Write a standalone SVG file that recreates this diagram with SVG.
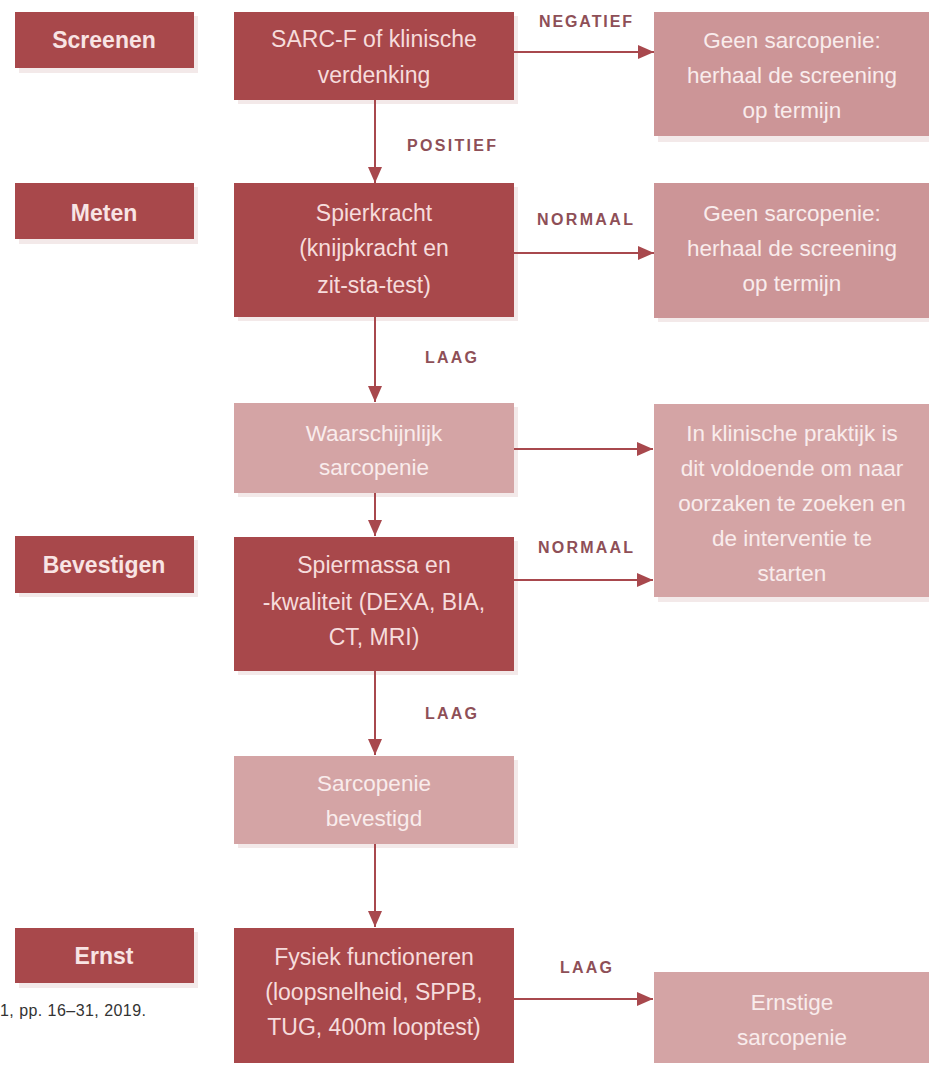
<svg xmlns="http://www.w3.org/2000/svg" width="929" height="1065" viewBox="0 0 929 1065">
<style>
.dark{fill:#a8484b}
.lightA{fill:#cc9597}
.lightB{fill:#d4a4a5}
.shadow{fill:#f3e9e9}
.stage{font-family:"Liberation Sans",Arial,sans-serif;font-weight:bold;font-size:23px;fill:#f8e4e4;text-anchor:middle}
.dt{font-family:"Liberation Sans",Arial,sans-serif;font-size:23px;fill:#f6dcdc;text-anchor:middle}
.lt{font-family:"Liberation Sans",Arial,sans-serif;font-size:22.5px;fill:#f9ecec;text-anchor:middle}
.lbl{font-family:"Liberation Sans",Arial,sans-serif;font-weight:bold;font-size:16px;fill:#8e4f57}
.conn{stroke:#a8484d;stroke-width:2;fill:none;marker-end:url(#ah)}
.cite{font-family:"Liberation Sans",Arial,sans-serif;font-size:16px;fill:#333}
</style>
<defs>
<marker id="ah" markerUnits="userSpaceOnUse" markerWidth="16" markerHeight="14" refX="16" refY="7" orient="auto">
<path d="M0,0 L16,7 L0,14 Z" fill="#a8484d"/>
</marker>
</defs>
<rect width="929" height="1065" fill="#ffffff"/>

<g id="shadows">
<rect class="shadow" x="19" y="16" width="179" height="57"/>
<rect class="shadow" x="19" y="187" width="179" height="57"/>
<rect class="shadow" x="19" y="540" width="179" height="57"/>
<rect class="shadow" x="19" y="932" width="179" height="56"/>
<rect class="shadow" x="238" y="16" width="280" height="88"/>
<rect class="shadow" x="238" y="187" width="280" height="134"/>
<rect class="shadow" x="238" y="407" width="280" height="90"/>
<rect class="shadow" x="238" y="541" width="280" height="134"/>
<rect class="shadow" x="238" y="760" width="280" height="88"/>
<rect class="shadow" x="658" y="16" width="271" height="126"/>
<rect class="shadow" x="658" y="187" width="271" height="135"/>
<rect class="shadow" x="658" y="408" width="271" height="194"/>
</g>

<g id="stage-screenen"><rect class="dark" x="15" y="12" width="179" height="56"/><text class="stage" x="104" y="48">Screenen</text></g>
<g id="stage-meten"><rect class="dark" x="15" y="183" width="179" height="56"/><text class="stage" x="104" y="221">Meten</text></g>
<g id="stage-bevestigen"><rect class="dark" x="15" y="536" width="179" height="57"/><text class="stage" x="104" y="573">Bevestigen</text></g>
<g id="stage-ernst"><rect class="dark" x="15" y="928" width="179" height="55"/><text class="stage" x="104" y="964">Ernst</text></g>

<g id="sarcf"><rect class="dark" x="234" y="12" width="280" height="88"/>
<text class="dt" x="374" y="47">SARC-F of klinische</text><text class="dt" x="374" y="83">verdenking</text></g>
<g id="spierkracht"><rect class="dark" x="234" y="183" width="280" height="134"/>
<text class="dt" x="374" y="221">Spierkracht</text><text class="dt" x="374" y="256">(knijpkracht en</text><text class="dt" x="374" y="293">zit-sta-test)</text></g>
<g id="waarschijnlijk"><rect class="lightB" x="234" y="403" width="280" height="90"/>
<text class="lt" x="374" y="441">Waarschijnlijk</text><text class="lt" x="374" y="475">sarcopenie</text></g>
<g id="spiermassa"><rect class="dark" x="234" y="537" width="280" height="134"/>
<text class="dt" x="374" y="573">Spiermassa en</text><text class="dt" x="374" y="610">-kwaliteit (DEXA, BIA,</text><text class="dt" x="374" y="645">CT, MRI)</text></g>
<g id="bevestigd"><rect class="lightB" x="234" y="756" width="280" height="88"/>
<text class="lt" x="374" y="791">Sarcopenie</text><text class="lt" x="374" y="826">bevestigd</text></g>
<g id="fysiek"><rect class="dark" x="234" y="928" width="280" height="135"/>
<text class="dt" x="374" y="965">Fysiek functioneren</text><text class="dt" x="374" y="1000">(loopsnelheid, SPPB,</text><text class="dt" x="374" y="1035">TUG, 400m looptest)</text></g>

<g id="geen1"><rect class="lightA" x="654" y="12" width="275" height="124"/>
<text class="lt" x="792" y="48">Geen sarcopenie:</text><text class="lt" x="792" y="83">herhaal de screening</text><text class="lt" x="792" y="118">op termijn</text></g>
<g id="geen2"><rect class="lightA" x="654" y="183" width="275" height="135"/>
<text class="lt" x="792" y="221">Geen sarcopenie:</text><text class="lt" x="792" y="256">herhaal de screening</text><text class="lt" x="792" y="291">op termijn</text></g>
<g id="praktijk"><rect class="lightB" x="654" y="404" width="275" height="193"/>
<text class="lt" x="792" y="441">In klinische praktijk is</text><text class="lt" x="792" y="476">dit voldoende om naar</text><text class="lt" x="792" y="511">oorzaken te zoeken en</text><text class="lt" x="792" y="546">de interventie te</text><text class="lt" x="792" y="581">starten</text></g>
<g id="ernstig"><rect class="lightB" x="654" y="972" width="275" height="91"/>
<text class="lt" x="792" y="1010">Ernstige</text><text class="lt" x="792" y="1045">sarcopenie</text></g>

<g id="connectors">
<line class="conn" x1="375" y1="100" x2="375" y2="183"/>
<line class="conn" x1="375" y1="317" x2="375" y2="402"/>
<line class="conn" x1="375" y1="493" x2="375" y2="536"/>
<line class="conn" x1="375" y1="671" x2="375" y2="755"/>
<line class="conn" x1="375" y1="844" x2="375" y2="927"/>
<line class="conn" x1="514" y1="52" x2="654" y2="52"/>
<line class="conn" x1="514" y1="253" x2="654" y2="253"/>
<line class="conn" x1="514" y1="449" x2="653" y2="449"/>
<line class="conn" x1="514" y1="580" x2="653" y2="580"/>
<line class="conn" x1="514" y1="999" x2="653" y2="999"/>
<text class="lbl" x="539" y="27" textLength="93">NEGATIEF</text>
<text class="lbl" x="407" y="151" textLength="89">POSITIEF</text>
<text class="lbl" x="537" y="225" textLength="96">NORMAAL</text>
<text class="lbl" x="425" y="363" textLength="52">LAAG</text>
<text class="lbl" x="538" y="553" textLength="95">NORMAAL</text>
<text class="lbl" x="425" y="719" textLength="52">LAAG</text>
<text class="lbl" x="560" y="973" textLength="52">LAAG</text>
</g>

<text class="cite" x="0" y="1016" textLength="146">1, pp. 16–31, 2019.</text>
</svg>
